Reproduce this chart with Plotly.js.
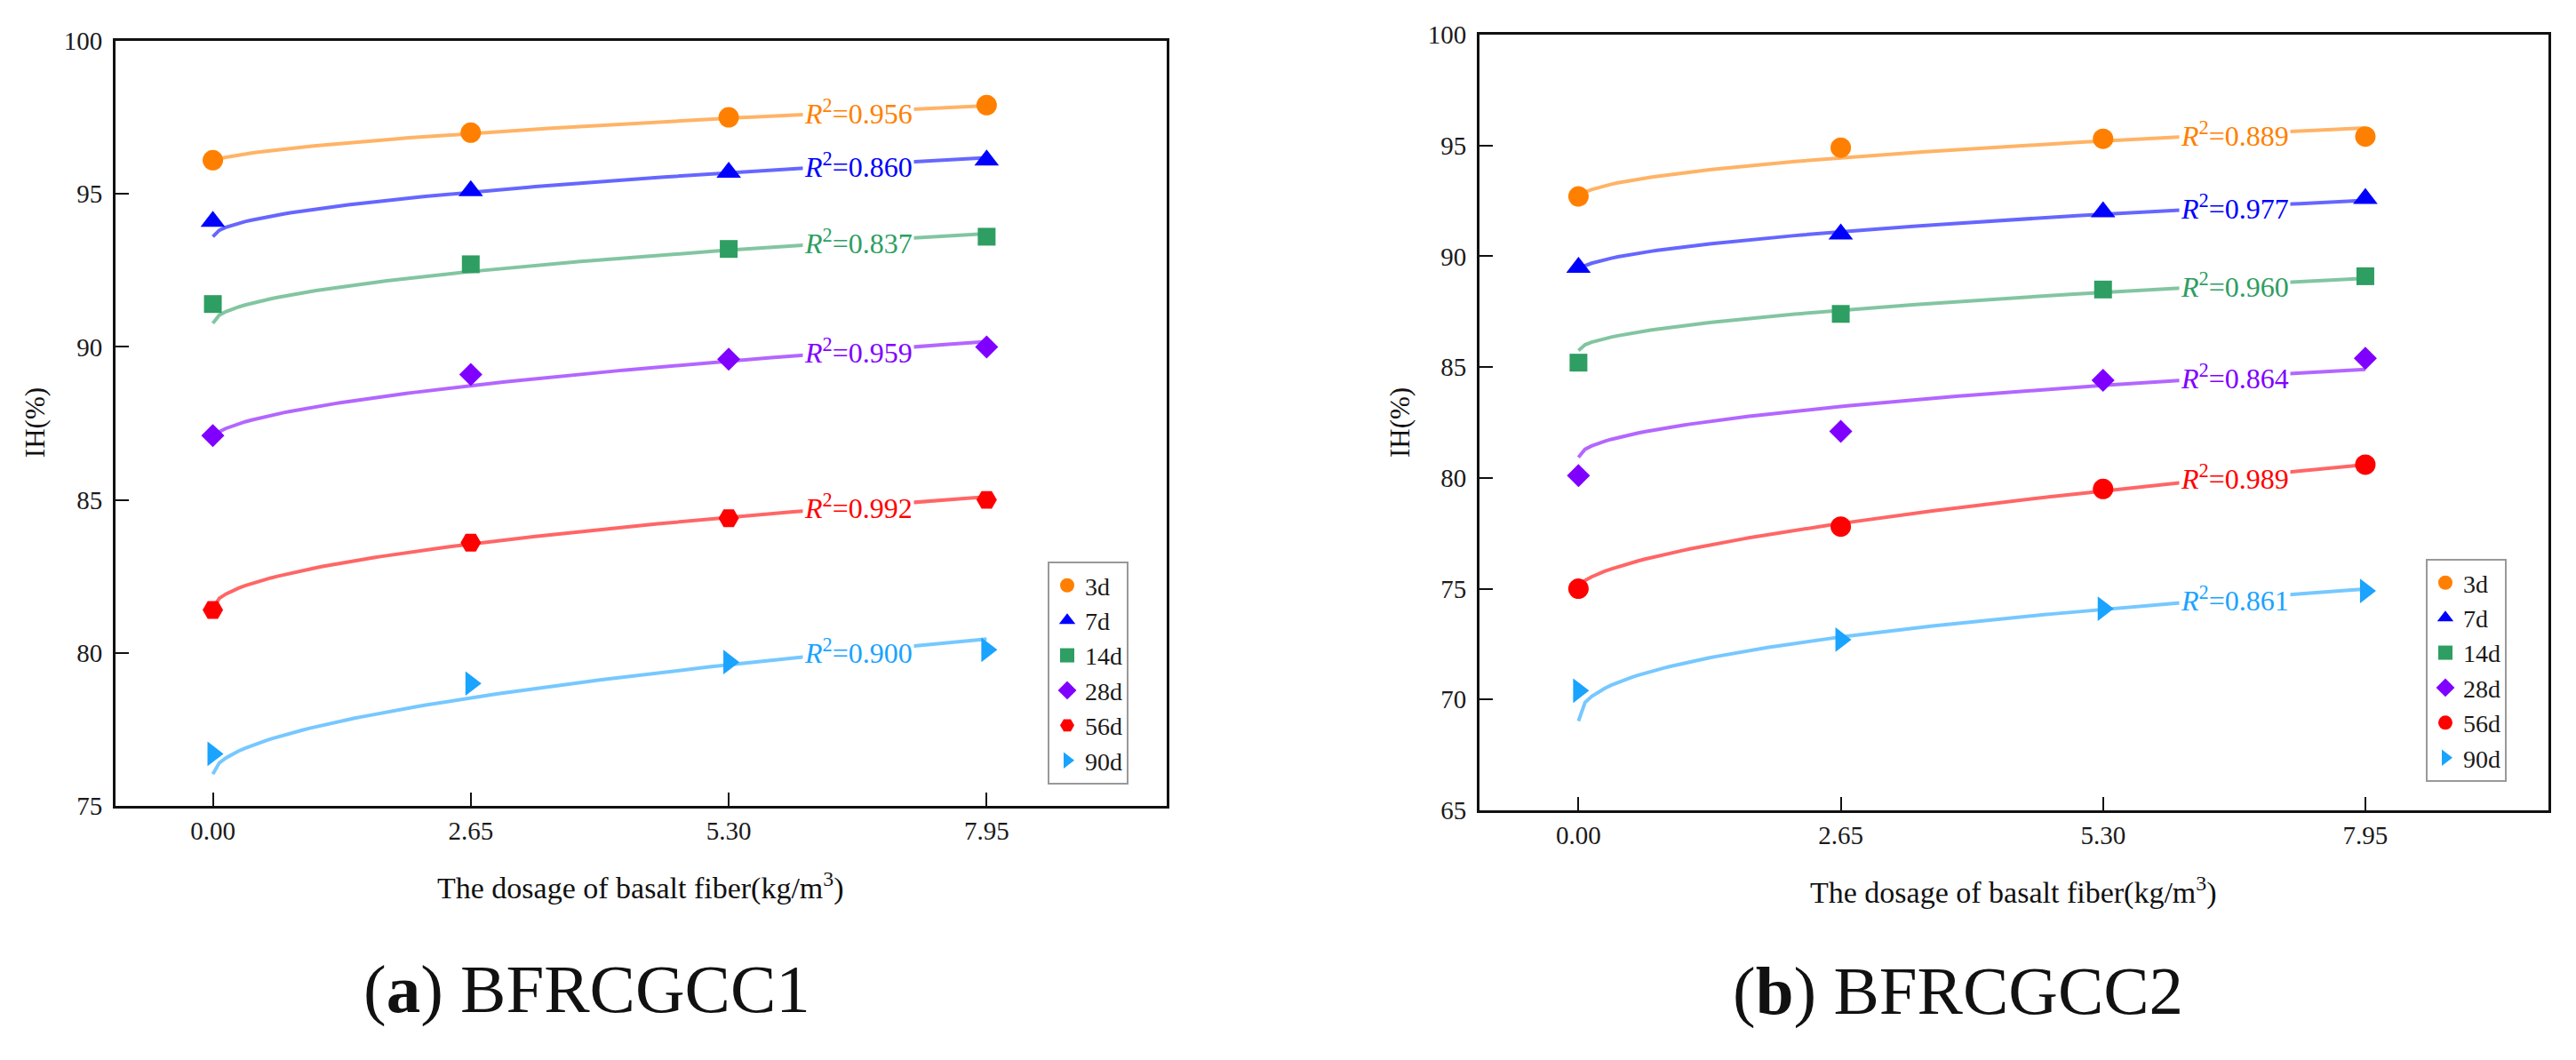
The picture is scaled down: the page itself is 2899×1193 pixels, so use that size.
<!DOCTYPE html>
<html>
<head>
<meta charset="utf-8">
<script src="https://cdn.plot.ly/plotly-3.0.1.min.js"></script>
<style>
  html, body { margin: 0; padding: 0; background: #fff; }
  #chart { width: 2899px; height: 1193px; }
</style>
</head>
<body>
<div id="chart"></div>
<script>
// dosage of basalt fiber (kg/m3)
const dosage = [0, 2.65, 5.30, 7.95];
const dosageLabels = ["0.00", "2.65", "5.30", "7.95"];
const ageNames = ["3d", "7d", "14d", "28d", "56d", "90d"];

// (a) BFRCGCC1, IH(%)
const ihA_3d = [96.1, 97.0, 97.5, 97.9];
const ihA_7d = [94.1, 95.1, 95.7, 96.1];
const ihA_14d = [91.4, 92.7, 93.2, 93.6];
const ihA_28d = [87.1, 89.1, 89.6, 90.0];
const ihA_56d = [81.4, 83.6, 84.4, 85.0];
const ihA_90d = [76.7, 79.0, 79.7, 80.1];

// (b) BFRCGCC2, IH(%)
const ihB_3d = [92.7, 94.9, 95.3, 95.4];
const ihB_7d = [89.5, 91.0, 92.0, 92.6];
const ihB_14d = [85.2, 87.4, 88.5, 89.1];
const ihB_28d = [80.1, 82.1, 84.4, 85.4];
const ihB_56d = [75.0, 77.8, 79.5, 80.6];
const ihB_90d = [70.4, 72.7, 74.1, 74.9];

// fitted curves (y = start + (end - start) * (x / 7.95)^pow)
const fitA_start = [96.05, 93.6, 90.77, 87.0, 81.45, 76.04];
const fitA_end = [97.88, 96.18, 93.7, 90.17, 85.1, 80.45];
const fitA_pow = [0.62, 0.52, 0.5, 0.55, 0.5, 0.52];
const fitB_start = [92.6, 89.32, 85.75, 80.93, 75.04, 69.03];
const fitB_end = [95.79, 92.52, 89.0, 84.9, 80.6, 74.98];
const fitB_pow = [0.5, 0.53, 0.53, 0.5, 0.59, 0.41];

const r2A = ["0.956", "0.860", "0.837", "0.959", "0.992", "0.900"];
const r2B = ["0.889", "0.977", "0.960", "0.864", "0.989", "0.861"];

const colors = ["#FF8000", "#0000FF", "#2E9E62", "#8000FF", "#FF0000", "#1AA3FF"];
const symbolsA = ["circle", "triangle-up", "square", "diamond", "hexagon2", "triangle-right"];
const symbolsB = ["circle", "triangle-up", "square", "diamond", "circle", "triangle-right"];
const sizes = [23, 24, 20, 20, 23, 24];

const FONT = "Liberation Serif";
const xMax = dosage[dosage.length - 1];
const labelX = 6.63;

function fitValue(start, end, pow, x) {
  return start + (end - start) * Math.pow(x / xMax, pow);
}

function buildPanel(series, fitS, fitE, fitP, r2, symbols, xa, ya, legendId) {
  const traces = [];
  const notes = [];
  series.forEach((ys, i) => {
    // fit curve
    const cx = [];
    const cy = [];
    for (let k = 0; k <= 120; k++) {
      const x = xMax * k / 120;
      cx.push(x);
      cy.push(fitValue(fitS[i], fitE[i], fitP[i], x));
    }
    traces.push({
      x: cx, y: cy, xaxis: xa, yaxis: ya, type: "scatter", mode: "lines",
      line: { color: colors[i], width: 4 }, opacity: 0.6,
      showlegend: false, hoverinfo: "skip",
    });
    // measured points
    traces.push({
      x: dosage, y: ys, xaxis: xa, yaxis: ya, type: "scatter", mode: "markers",
      name: ageNames[i], legend: legendId,
      marker: { color: colors[i], symbol: symbols[i], size: sizes[i], line: { width: 0 } },
    });
    notes.push({
      xref: xa, yref: ya, x: labelX, y: fitValue(fitS[i], fitE[i], fitP[i], labelX),
      text: "<i>R</i><sup>2</sup>=" + r2[i], showarrow: false,
      font: { family: FONT, size: 32, color: colors[i] },
      bgcolor: "#ffffff", borderpad: 1,
    });
  });
  return { traces, notes };
}

const panelA = buildPanel([ihA_3d, ihA_7d, ihA_14d, ihA_28d, ihA_56d, ihA_90d],
  fitA_start, fitA_end, fitA_pow, r2A, symbolsA, "x", "y", "legend");
const panelB = buildPanel([ihB_3d, ihB_7d, ihB_14d, ihB_28d, ihB_56d, ihB_90d],
  fitB_start, fitB_end, fitB_pow, r2B, symbolsB, "x2", "y2", "legend2");

function xAxis(domain, anchor) {
  return {
    domain: domain, anchor: anchor, range: [-1, 9.8],
    tickvals: dosage, ticktext: dosageLabels,
    ticks: "inside", ticklen: 15, tickwidth: 2, tickcolor: "#111",
    showline: true, mirror: true, linecolor: "#111", linewidth: 3,
    showgrid: false, zeroline: false, fixedrange: true,
    tickfont: { family: FONT, size: 29, color: "#1a1a1a" },
  };
}

function yAxis(domain, anchor, range) {
  return {
    domain: domain, anchor: anchor, range: range, dtick: 5,
    ticks: "inside", ticklen: 15, tickwidth: 2, tickcolor: "#111",
    showline: true, mirror: true, linecolor: "#111", linewidth: 3,
    showgrid: false, zeroline: false, fixedrange: true, ticklabelstandoff: 6,
    tickfont: { family: FONT, size: 29, color: "#1a1a1a" },
  };
}

function legendBox(x, y) {
  return {
    x: x, y: y, xanchor: "left", yanchor: "top",
    bgcolor: "#ffffff", bordercolor: "#999999", borderwidth: 2,
    font: { family: FONT, size: 28, color: "#1a1a1a" },
    tracegroupgap: 0, itemwidth: 30,
  };
}

const textNotes = [
  { x: 0.2487, y: 0.1635, text: "The dosage of basalt fiber(kg/m<sup>3</sup>)", size: 34 },
  { x: 0.7817, y: 0.1593, text: "The dosage of basalt fiber(kg/m<sup>3</sup>)", size: 34 },
  { x: 0.0135, y: 0.601, text: "IH(%)", size: 31, angle: -90 },
  { x: 0.5433, y: 0.601, text: "IH(%)", size: 31, angle: -90 },
  { x: 0.228, y: 0.067, text: "(<b>a</b>) BFRCGCC1", size: 77 },
  { x: 0.76, y: 0.065, text: "(<b>b</b>) BFRCGCC2", size: 77 },
].map((t) => ({
  xref: "paper", yref: "paper", x: t.x, y: t.y, text: t.text, showarrow: false,
  xanchor: "center", yanchor: "middle", textangle: t.angle || 0,
  font: { family: FONT, size: t.size, color: "#111" },
}));

const layout = {
  width: 2899, height: 1193,
  margin: { l: 0, r: 0, t: 0, b: 0 },
  paper_bgcolor: "#ffffff", plot_bgcolor: "#ffffff",
  showlegend: true,
  xaxis: xAxis([0.04484, 0.45292], "y"),
  yaxis: yAxis([0.23973, 0.96144], "x", [75, 100]),
  xaxis2: xAxis([0.57434, 0.98931], "y2"),
  yaxis2: yAxis([0.23554, 0.96731], "x2", [65, 100]),
  legend: legendBox(0.4067, 0.4702),
  legend2: legendBox(0.9417, 0.4727),
  annotations: panelA.notes.concat(panelB.notes, textNotes),
};

Plotly.newPlot("chart", panelA.traces.concat(panelB.traces), layout, {
  displayModeBar: false, staticPlot: true,
});
</script>
</body>
</html>
